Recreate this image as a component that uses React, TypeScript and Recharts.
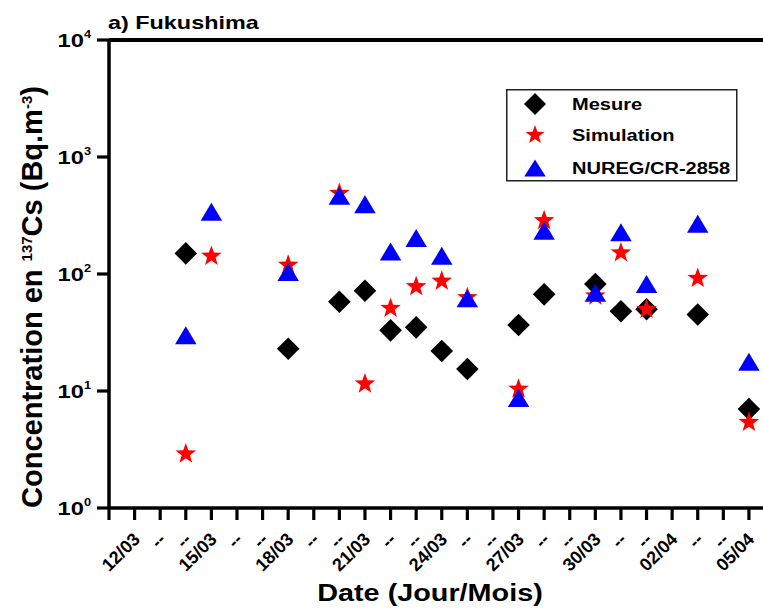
import React from 'react';
import { ScatterChart, Scatter, XAxis, YAxis, ReferenceLine, Legend, Customized } from 'recharts';

// Day index 0 = 11/03 ... 25 = 05/04
const dates = [
  '11/03', '12/03', '13/03', '14/03', '15/03', '16/03', '17/03', '18/03', '19/03', '20/03',
  '21/03', '22/03', '23/03', '24/03', '25/03', '26/03', '27/03', '28/03', '29/03', '30/03',
  '31/03', '01/04', '02/04', '03/04', '04/04', '05/04',
];
const xTickLabels = [
  '', '12/03', '--', '--', '15/03', '--', '--', '18/03', '--', '--',
  '21/03', '--', '--', '24/03', '--', '--', '27/03', '--', '--', '30/03',
  '--', '--', '02/04', '--', '--', '05/04',
];
const mesure = [
  null, null, null, 150, null, null, null, 23, null, 58,
  72, 33, 35, 22, 15.4, null, 36.6, 67, null, 82,
  48, 50, null, 45, null, 7.0,
];
const simulation = [
  null, null, null, 2.9, 142, null, null, 119, null, 490,
  11.5, 51, 78, 87, 63, null, 10.4, 286, null, 65,
  152, 50, null, 92, null, 5.4,
];
const nureg = [
  null, null, null, 30, 341, null, null, 104, null, 467,
  394, 156, 203, 143, 62, null, 8.7, 234, null, 69,
  227, 82, null, 269, null, 17.8,
];
const yTicks = [1, 10, 100, 1000, 10000];
const seriesNames = ['Mesure', 'Simulation', 'NUREG/CR-2858'];

const toPoints = (vals: (number | null)[]) =>
  dates.map((d, i) => ({ x: i, date: d, v: vals[i] })).filter((p) => p.v != null);

const mesureData = toPoints(mesure);
const simulationData = toPoints(simulation);
const nuregData = toPoints(nureg);

const FONT = '"Liberation Sans", Arial, sans-serif';
const TICK_SIZE = 12;
const TICK_MARGIN = 2;

const diamondPath = (cx: number, cy: number, r: number) =>
  `M${cx},${cy - r}L${cx + r},${cy}L${cx},${cy + r}L${cx - r},${cy}Z`;
const starPath = (cx: number, cy: number, R: number, r: number) => {
  let d = '';
  for (let k = 0; k < 10; k++) {
    const rad = k % 2 === 0 ? R : r;
    const a = -Math.PI / 2 + (k * Math.PI) / 5;
    d += (k === 0 ? 'M' : 'L') + (cx + rad * Math.cos(a)).toFixed(2) + ',' + (cy + rad * Math.sin(a)).toFixed(2);
  }
  return d + 'Z';
};
const trianglePath = (cx: number, cy: number, w: number, h: number) =>
  `M${cx},${cy - h / 2}L${cx + w / 2},${cy + h / 2}L${cx - w / 2},${cy + h / 2}Z`;

const DiamondShape = (p: any) => <path d={diamondPath(p.cx, p.cy, 11.3)} fill="#000000" />;
const StarShape = (p: any) => <path d={starPath(p.cx, p.cy, 10.8, 4.4)} fill="#ff0000" />;
const TriangleShape = (p: any) => <path d={trianglePath(p.cx, p.cy, 21.5, 18)} fill="#0000ff" />;

const XTick = (props: any) => {
  const { x, y, payload } = props;
  const label = xTickLabels[payload.value] ?? '';
  const axisY = y - TICK_SIZE - TICK_MARGIN;
  return (
    <g>
      <line x1={x} x2={x} y1={axisY} y2={axisY + TICK_SIZE} stroke="#000" strokeWidth={3.2} />
      {label ? (
        <g transform={`translate(${x + 2},${y + 14}) rotate(-45)`}>
          <text x={0} y={0} dy="0.35em" textAnchor="end" fontFamily={FONT} fontWeight="bold" fontSize={18} fill="#000">
            {label}
          </text>
        </g>
      ) : null}
    </g>
  );
};

const YTick = (props: any) => {
  const { x, y, payload } = props;
  const exp = Math.round(Math.log10(payload.value));
  const axisX = x + TICK_SIZE + TICK_MARGIN;
  return (
    <g>
      <line x1={axisX - TICK_SIZE} x2={axisX} y1={y} y2={y} stroke="#000" strokeWidth={3.2} />
      <g transform={`translate(${x - 4},${y}) scale(1.28,1)`}>
        <text x={0} y={0} dy={6.5} textAnchor="end" fontFamily={FONT} fontWeight="bold" fontSize={18.5} fill="#000">
          10<tspan dy={-8.5} fontSize={10}>{exp}</tspan>
        </text>
      </g>
    </g>
  );
};

const LegendBox = () => {
  const rows = [
    { name: seriesNames[0], icon: <path d={diamondPath(29, 15, 11)} fill="#000" /> },
    { name: seriesNames[1], icon: <path d={starPath(29, 46, 10, 4.1)} fill="#ff0000" /> },
    { name: seriesNames[2], icon: <path d={trianglePath(29, 79, 21.5, 17)} fill="#0000ff" /> },
  ];
  const ys = [15, 46, 79];
  return (
    <svg width={232} height={93} style={{ display: 'block' }}>
      <rect x={0.75} y={0.75} width={230} height={91} fill="#fff" stroke="#222" strokeWidth={1.5} />
      {rows.map((r, i) => (
        <g key={r.name}>
          {r.icon}
          <text
            transform={`translate(66,${ys[i]}) scale(1.18,1)`}
            dy={6}
            fontFamily={FONT}
            fontWeight="bold"
            fontSize={17}
            fill="#000"
          >
            {r.name}
          </text>
        </g>
      ))}
    </svg>
  );
};

const Titles = () => (
  <g>
    <text transform="translate(108,29) scale(1.3,1)" fontFamily={FONT} fontWeight="bold" fontSize={18} fill="#000">
      a) Fukushima
    </text>
    <text transform="translate(430,601) scale(1.2,1)" textAnchor="middle" fontFamily={FONT} fontWeight="bold" fontSize={24} fill="#000">
      Date (Jour/Mois)
    </text>
    <text transform="translate(42,297) rotate(-90)" textAnchor="middle" fontFamily={FONT} fontWeight="bold" fontSize={29} fill="#000">
      Concentration en <tspan dy={-10} fontSize={15}>137</tspan>
      <tspan dy={10}>Cs (Bq.m</tspan>
      <tspan dy={-10} fontSize={15}>-3</tspan>
      <tspan dy={10}>)</tspan>
    </text>
  </g>
);

export default function App() {
  return (
    <div style={{ position: 'absolute', left: 0, top: 0, width: 763, height: 612, background: '#fff' }}>
      <ScatterChart width={763} height={612} margin={{ top: 40, right: 0, bottom: 0, left: 0 }}>
        <XAxis
          type="number"
          dataKey="x"
          domain={[0, 25.55]}
          ticks={dates.map((_, i) => i)}
          interval={0}
          height={104}
          allowDataOverflow
          axisLine={{ stroke: '#000', strokeWidth: 3.5 }}
          tickLine={false}
          tickSize={TICK_SIZE}
          tickMargin={TICK_MARGIN}
          tick={<XTick />}
        />
        <YAxis
          type="number"
          dataKey="v"
          scale="log"
          domain={[1, 10000]}
          ticks={yTicks}
          interval={0}
          width={109}
          allowDataOverflow
          axisLine={{ stroke: '#000', strokeWidth: 3.5 }}
          tickLine={false}
          tickSize={TICK_SIZE}
          tickMargin={TICK_MARGIN}
          tick={<YTick />}
        />
        <ReferenceLine y={10000} stroke="#000" strokeWidth={4} />
        <Scatter name={seriesNames[0]} data={mesureData} fill="#000" shape={DiamondShape} isAnimationActive={false} />
        <Scatter name={seriesNames[1]} data={simulationData} fill="#ff0000" shape={StarShape} isAnimationActive={false} />
        <Scatter name={seriesNames[2]} data={nuregData} fill="#0000ff" shape={TriangleShape} isAnimationActive={false} />
        <Legend
          layout="horizontal"
          verticalAlign="middle"
          align="center"
          content={() => <LegendBox />}
          wrapperStyle={{ position: 'absolute', left: 506, top: 89, width: 232, height: 93 }}
        />
        <Customized component={Titles} />
      </ScatterChart>
    </div>
  );
}
